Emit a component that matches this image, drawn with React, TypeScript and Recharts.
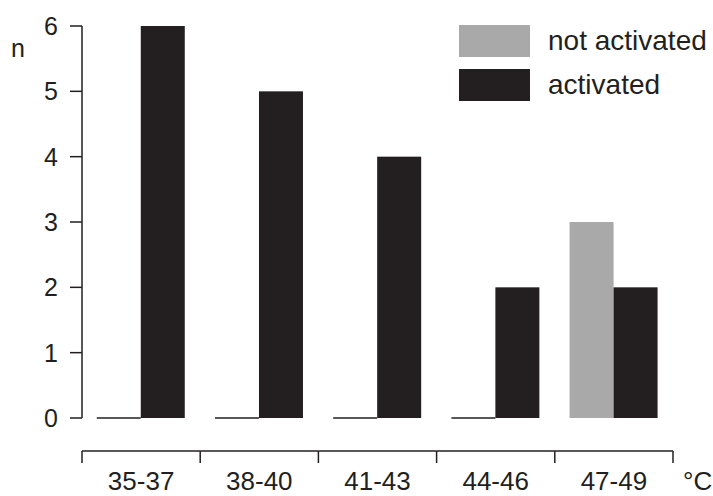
import { Bar, BarChart, Label, Legend, XAxis, YAxis } from "recharts"

const categories = ["35-37", "38-40", "41-43", "44-46", "47-49"]
const notActivated = [0, 0, 0, 0, 3]
const activated = [6, 5, 4, 2, 2]
const yTicks = [0, 1, 2, 3, 4, 5, 6]
const seriesNames = ["not activated", "activated"]

const data = categories.map((range, i) => ({
  range,
  notActivated: notActivated[i],
  activated: activated[i]
}))

const W = 713
const H = 496
const Y_AXIS_W = 82
const MARGIN_TOP = 26
const MARGIN_RIGHT = 40
const X_AXIS_H = 78
const BAND = (W - Y_AXIS_W - MARGIN_RIGHT) / categories.length

const INK = "#231f20"
const GREY = "#a9a9a9"
const FONT = "'Liberation Sans', Arial, sans-serif"

// zero height bars still show as a flat line on the baseline
const BarShape = (props: any) => {
  const { x, y, width, height, fill } = props
  if (!height) {
    return <line x1={x} x2={x + width} y1={y} y2={y} stroke={INK} strokeWidth={1.5} />
  }
  return <rect x={x} y={y} width={width} height={height} fill={fill} />
}

// x axis sits below the plot, drawn piece by piece per category
const XTick = (props: any) => {
  const { x, y, payload, index } = props
  const half = BAND / 2
  const ay = y + 33
  return (
    <g>
      <line x1={x - half} x2={x + half} y1={ay} y2={ay} stroke={INK} strokeWidth={1.5} />
      {index === 0 && (
        <line x1={x - half} x2={x - half} y1={ay} y2={ay + 12} stroke={INK} strokeWidth={1.5} />
      )}
      <line x1={x + half} x2={x + half} y1={ay} y2={ay + 12} stroke={INK} strokeWidth={1.5} />
      <text x={x} y={y + 72} textAnchor="middle" fontSize={26} fill={INK} fontFamily={FONT}>
        {payload.value}
      </text>
      {index === categories.length - 1 && (
        <text x={x + half + 10} y={y + 72} fontSize={26} fill={INK} fontFamily={FONT}>
          °C
        </text>
      )}
    </g>
  )
}

const renderLegend = (props: any) => {
  const items = [...(props.payload || [])].sort(
    (a: any, b: any) => seriesNames.indexOf(a.value) - seriesNames.indexOf(b.value)
  )
  return (
    <div style={{ display: "flex", flexDirection: "column", gap: 12 }}>
      {items.map((entry: any) => (
        <div key={entry.value} style={{ display: "flex", alignItems: "center", height: 32 }}>
          <div style={{ width: 71, height: 32, background: entry.color }} />
          <span
            style={{
              marginLeft: 18,
              fontSize: 28,
              lineHeight: "32px",
              color: INK,
              fontFamily: FONT,
              whiteSpace: "nowrap"
            }}
          >
            {entry.value}
          </span>
        </div>
      ))}
    </div>
  )
}

const App = () => {
  return (
    <div style={{ position: "absolute", left: 0, top: 0, background: "#fff" }}>
      <BarChart
        width={W}
        height={H}
        data={data}
        margin={{ top: MARGIN_TOP, right: MARGIN_RIGHT, left: 0, bottom: 0 }}
        barCategoryGap="12.5%"
        barGap={0}
      >
        <XAxis
          dataKey="range"
          height={X_AXIS_H}
          axisLine={false}
          tickLine={false}
          tickSize={0}
          tickMargin={0}
          interval={0}
          tick={<XTick />}
        />
        <YAxis
          width={Y_AXIS_W}
          domain={[0, 6]}
          ticks={yTicks}
          interval={0}
          tickSize={12}
          tickMargin={12}
          axisLine={{ stroke: INK, strokeWidth: 1.5 }}
          tickLine={{ stroke: INK, strokeWidth: 1.5 }}
          tick={{ fontSize: 25, fill: INK, fontFamily: FONT }}
        >
          <Label
            content={(p: any) => (
              <text
                x={p.viewBox.x + 18}
                y={p.viewBox.y + 31}
                textAnchor="middle"
                fontSize={25}
                fill={INK}
                fontFamily={FONT}
              >
                n
              </text>
            )}
          />
        </YAxis>
        <Legend
          layout="horizontal"
          verticalAlign="middle"
          align="center"
          content={renderLegend}
          wrapperStyle={{ top: 25, left: 459, width: "auto" }}
        />
        <Bar
          dataKey="notActivated"
          name={seriesNames[0]}
          fill={GREY}
          shape={<BarShape />}
          isAnimationActive={false}
        />
        <Bar
          dataKey="activated"
          name={seriesNames[1]}
          fill={INK}
          shape={<BarShape />}
          isAnimationActive={false}
        />
      </BarChart>
    </div>
  )
}

export default App
